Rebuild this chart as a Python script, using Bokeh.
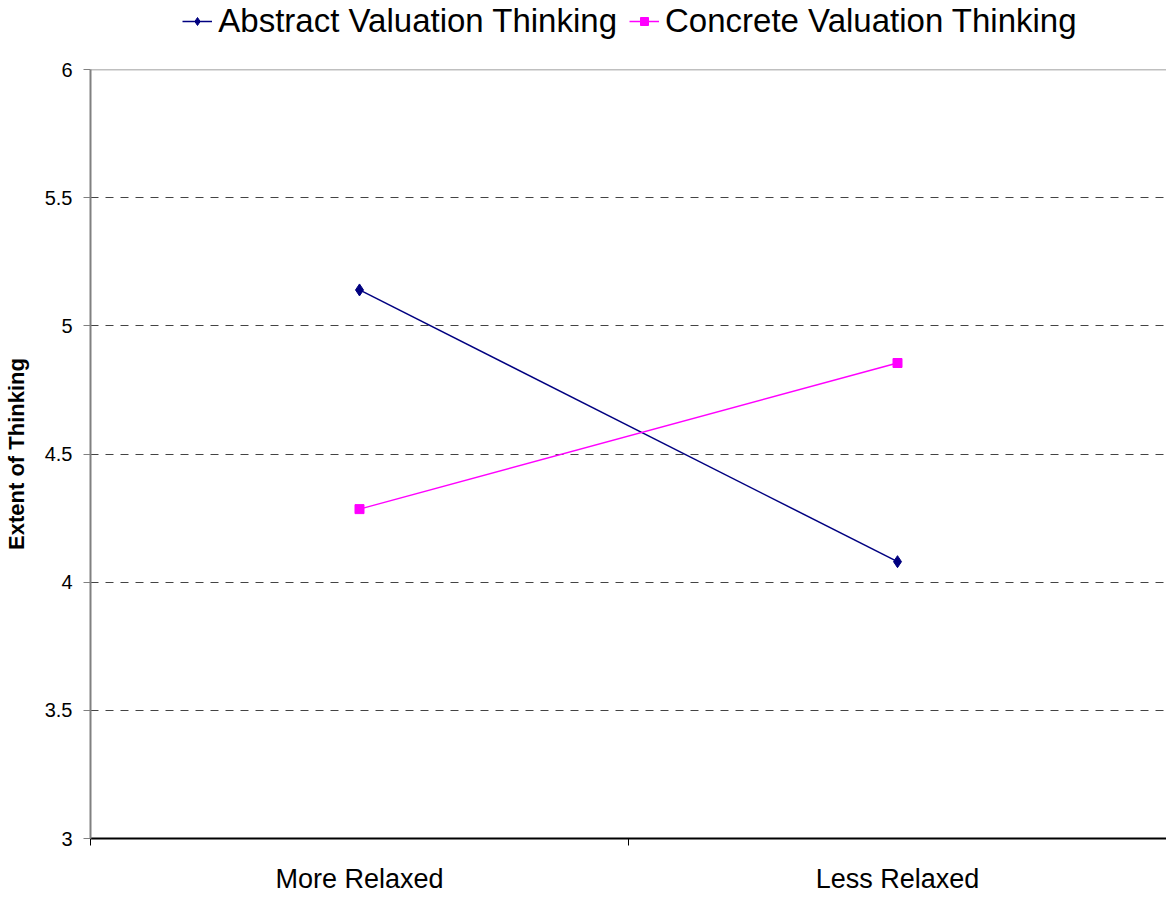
from bokeh.plotting import figure
from bokeh.layouts import column
from bokeh.models import Range1d, FixedTicker, Span, Legend, LegendItem
from bokeh.embed import file_html
from bokeh.resources import INLINE

categories = ["More Relaxed", "Less Relaxed"]
abstract_vals = [5.14, 4.08]
concrete_vals = [4.285, 4.855]
y_ticks = [3, 3.5, 4, 4.5, 5, 5.5, 6]
y_labels = ["3", "3.5", "4", "4.5", "5", "5.5", "6"]
series_names = ["Abstract Valuation Thinking", "Concrete Valuation Thinking"]

x_pos = [i + 0.5 for i in range(len(categories))]
FONT = "Liberation Sans"
NAVY = "#000080"
MAGENTA = "#FF00FF"

p = figure(frame_width=1076, frame_height=769, output_backend="svg", toolbar_location=None,
           x_range=Range1d(0, len(categories)), y_range=Range1d(y_ticks[0], y_ticks[-1]),
           min_border_left=82, min_border_bottom=60, min_border_top=14, min_border_right=0)
p.outline_line_color = None
p.background_fill_color = "white"
p.border_fill_color = "white"

# x axis
p.xaxis.ticker = FixedTicker(ticks=x_pos, minor_ticks=list(range(len(categories) + 1)))
p.xaxis.major_label_overrides = {x: c for x, c in zip(x_pos, categories)}
p.xaxis.major_tick_line_color = None
p.xaxis.major_tick_out = 7
p.xaxis.major_tick_in = 0
p.xaxis.minor_tick_out = 7
p.xaxis.minor_tick_in = 0
p.xaxis.minor_tick_line_color = "black"
p.xaxis.axis_line_color = "black"
p.xaxis.axis_line_width = 2
p.xaxis.major_label_text_font = FONT
p.xaxis.major_label_text_font_size = "27px"
p.xaxis.major_label_text_color = "black"
p.xaxis.major_label_standoff = 18
p.xgrid.grid_line_color = None

# y axis
p.yaxis.ticker = FixedTicker(ticks=y_ticks, minor_ticks=[])
p.yaxis.major_label_overrides = {t: l for t, l in zip(y_ticks, y_labels)}
p.yaxis.axis_line_color = "#808080"
p.yaxis.axis_line_width = 2
p.yaxis.major_tick_line_color = "#808080"
p.yaxis.major_tick_out = 7
p.yaxis.major_tick_in = 0
p.yaxis.major_label_text_font = FONT
p.yaxis.major_label_text_font_size = "20px"
p.yaxis.major_label_text_color = "black"
p.yaxis.major_label_standoff = 11
p.yaxis.axis_label = "Extent of Thinking"
p.yaxis.axis_label_text_font = FONT
p.yaxis.axis_label_text_font_style = "bold"
p.yaxis.axis_label_text_font_size = "22px"
p.yaxis.axis_label_text_color = "black"
p.yaxis.axis_label_standoff = 13

p.ygrid.ticker = FixedTicker(ticks=y_ticks[1:-1])
p.ygrid.grid_line_color = "#444444"
p.ygrid.grid_line_dash = "8 7"
p.ygrid.grid_line_width = 1

p.add_layout(Span(location=y_ticks[-1], dimension="width", line_color="#808080", line_width=1.5))

p.line(x_pos, abstract_vals, line_color=NAVY, line_width=1.5)
p.scatter(x_pos, abstract_vals, marker="diamond", size=12, color=NAVY)
p.line(x_pos, concrete_vals, line_color=MAGENTA, line_width=1.5)
p.scatter(x_pos, concrete_vals, marker="square", size=9, color=MAGENTA)

# legend strip above the chart (series drawn out of view; only the legend shows)
lg = figure(frame_width=1076, frame_height=55, output_backend="svg", toolbar_location=None,
            x_range=p.x_range, y_range=Range1d(0, 1),
            min_border_left=82, min_border_right=0, min_border_top=0, min_border_bottom=0,
            x_axis_location=None, y_axis_location=None)
lg.outline_line_color = None
lg.xgrid.grid_line_color = None
lg.ygrid.grid_line_color = None
a_line = lg.line(x_pos, abstract_vals, line_color=NAVY, line_width=1.5)
a_mark = lg.scatter(x_pos, abstract_vals, marker="diamond", size=10, color=NAVY)
c_line = lg.line(x_pos, concrete_vals, line_color=MAGENTA, line_width=1.5)
c_mark = lg.scatter(x_pos, concrete_vals, marker="square", size=8, color=MAGENTA)

legend = Legend(items=[LegendItem(label=series_names[0], renderers=[a_line, a_mark]),
                       LegendItem(label=series_names[1], renderers=[c_line, c_mark])],
                orientation="horizontal", location=(155, 15),
                label_text_font=FONT, label_text_font_size="33px", label_text_color="black",
                glyph_width=30, label_standoff=6, spacing=12, padding=0, margin=0,
                border_line_color=None, background_fill_alpha=0)
lg.add_layout(legend, "center")

layout = column(lg, p, spacing=0)
open("out.html", "w").write(file_html(layout, INLINE))
